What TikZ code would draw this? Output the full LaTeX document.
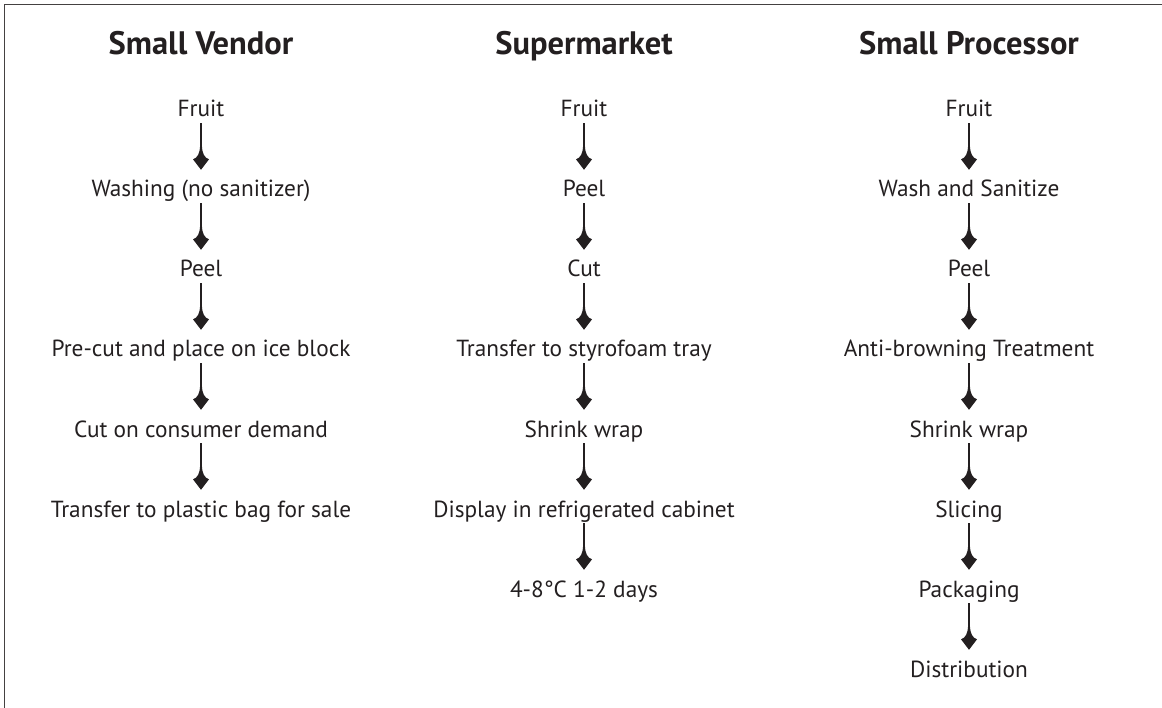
\documentclass[tikz,border=0pt]{standalone}
\usepackage{fontspec}
\setmainfont{PT Sans}
\usetikzlibrary{arrows.meta}
\definecolor{ink}{HTML}{231F20}
\pgfdeclarearrow{
  name = FinTip,
  parameters = {},
  setup code = {
    \pgfarrowssettipend{0pt}
    \pgfarrowssetbackend{-24pt}
    \pgfarrowssetlineend{-14pt}
    \pgfarrowshullpoint{0pt}{0pt}
    \pgfarrowshullpoint{-24pt}{8pt}
    \pgfarrowshullpoint{-24pt}{-8pt}
  },
  drawing code = {
    \pgfpathmoveto{\pgfqpoint{0pt}{0pt}}
    \pgfpathlineto{\pgfqpoint{-10.5pt}{8pt}}
    \pgfpathcurveto{\pgfqpoint{-12pt}{3.5pt}}{\pgfqpoint{-16pt}{1.3pt}}{\pgfqpoint{-24pt}{0.9pt}}
    \pgfpathlineto{\pgfqpoint{-24pt}{-0.9pt}}
    \pgfpathcurveto{\pgfqpoint{-16pt}{-1.3pt}}{\pgfqpoint{-12pt}{-3.5pt}}{\pgfqpoint{-10.5pt}{-8pt}}
    \pgfpathclose
    \pgfusepathqfill
  }
}
\begin{document}
\begin{tikzpicture}[x=1pt,y=-1pt,
  stepbox/.style={inner sep=0pt, anchor=base, text height=18pt, text depth=6pt,
    font=\fontsize{23.3}{28}\selectfont, text=ink},
  headbox/.style={inner sep=0pt, anchor=base, font=\fontsize{32.5}{38}\selectfont\bfseries, text=ink},
  flow/.style={color=ink, line width=1.9pt, -{FinTip},
    shorten <=0pt, shorten >=9pt},
  frame/.style={draw=ink!85, line width=1.6pt}]
\useasboundingbox (0,0) rectangle (1162,708);
\draw[frame] (4.5,708) -- (4.5,4.5) -- (1162,4.5);

% headings
\node[headbox] (h1) at (201,55) {Small Vendor};
\node[headbox] (h2) at (584,55) {Supermarket};
\node[headbox] (h3) at (969,55) {Small Processor};

% Small Vendor
\node[stepbox] (v1) at (201,117) {Fruit};
\node[stepbox] (v2) at (201,197) {Washing (no sanitizer)};
\node[stepbox] (v3) at (201,277) {Peel};
\node[stepbox] (v4) at (201,357) {Pre-cut and place on ice block};
\node[stepbox] (v5) at (201,437) {Cut on consumer demand};
\node[stepbox] (v6) at (201,517) {Transfer to plastic bag for sale};
\foreach \a/\b in {v1/v2,v2/v3,v3/v4,v4/v5,v5/v6} \draw[flow] (\a) -- (\b);

% Supermarket
\node[stepbox] (s1) at (584,117) {Fruit};
\node[stepbox] (s2) at (584,197) {Peel};
\node[stepbox] (s3) at (584,277) {Cut};
\node[stepbox] (s4) at (584,357) {Transfer to styrofoam tray};
\node[stepbox] (s5) at (584,437) {Shrink wrap};
\node[stepbox] (s6) at (584,517) {Display in refrigerated cabinet};
\node[stepbox] (s7) at (584,597) {4-8°C 1-2 days};
\foreach \a/\b in {s1/s2,s2/s3,s3/s4,s4/s5,s5/s6,s6/s7} \draw[flow] (\a) -- (\b);

% Small Processor
\node[stepbox] (p1) at (969,117) {Fruit};
\node[stepbox] (p2) at (969,197) {Wash and Sanitize};
\node[stepbox] (p3) at (969,277) {Peel};
\node[stepbox] (p4) at (969,357) {Anti-browning Treatment};
\node[stepbox] (p5) at (969,437) {Shrink wrap};
\node[stepbox] (p6) at (969,517) {Slicing};
\node[stepbox] (p7) at (969,597) {Packaging};
\node[stepbox] (p8) at (969,677) {Distribution};
\foreach \a/\b in {p1/p2,p2/p3,p3/p4,p4/p5,p5/p6,p6/p7,p7/p8} \draw[flow] (\a) -- (\b);
\end{tikzpicture}
\end{document}
